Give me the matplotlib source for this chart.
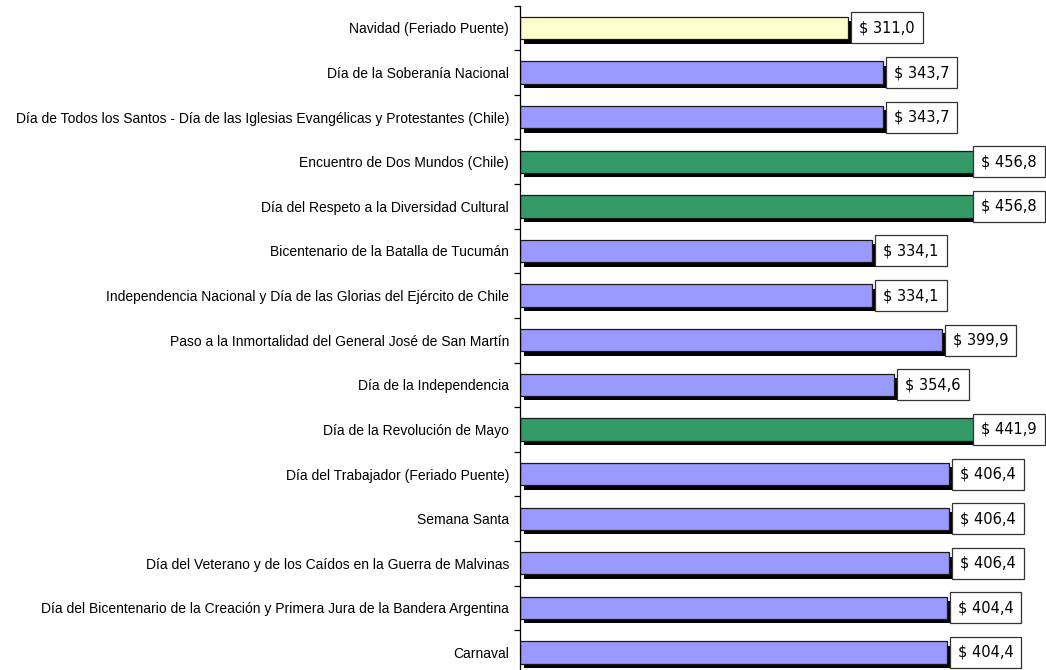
import matplotlib
matplotlib.use('Agg')
import matplotlib.pyplot as plt
import matplotlib.patheffects as pe
import numpy as np

# categories, top to bottom as in the chart
categories = [
    'Navidad (Feriado Puente)',
    'Día de la Soberanía Nacional',
    'Día de Todos los Santos - Día de las Iglesias Evangélicas y Protestantes (Chile)',
    'Encuentro de Dos Mundos (Chile)',
    'Día del Respeto a la Diversidad Cultural',
    'Bicentenario de la Batalla de Tucumán',
    'Independencia Nacional y Día de las Glorias del Ejército de Chile',
    'Paso a la Inmortalidad del General José de San Martín',
    'Día de la Independencia',
    'Día de la Revolución de Mayo',
    'Día del Trabajador (Feriado Puente)',
    'Semana Santa',
    'Día del Veterano y de los Caídos en la Guerra de Malvinas',
    'Día del Bicentenario de la Creación y Primera Jura de la Bandera Argentina',
    'Carnaval',
]
values = [311.0, 343.7, 343.7, 456.8, 456.8, 334.1, 334.1, 399.9, 354.6,
          441.9, 406.4, 406.4, 406.4, 404.4, 404.4]
kinds = ['puente', 'normal', 'normal', 'max', 'max', 'normal', 'normal', 'normal',
         'normal', 'max', 'normal', 'normal', 'normal', 'normal', 'normal']

colors = {'puente': '#FFFFCC', 'normal': '#9999FF', 'max': '#339966'}

W, H = 1046, 670
fig = plt.figure(figsize=(W / 100, H / 100), dpi=100)
# axis spans beyond the bottom edge (the original image is cropped there)
ax_left = 520 / W
ax_top = 1 - 5.6 / H
ax_bottom = 1 - 674.8 / H
ax = fig.add_axes([ax_left, ax_bottom, 1 - ax_left, ax_top - ax_bottom])

n = len(categories)
y = np.arange(n)
xmax = (W - 520) / 1.055

shadow = [pe.SimplePatchShadow(offset=(3.0, -3.2), shadow_rgbFace='black', alpha=1.0),
          pe.Normal()]
for yi, v, k in zip(y, values, kinds):
    ax.barh(yi, v, height=0.5, color=colors[k], edgecolor='#1a1a1a',
            linewidth=0.9, path_effects=shadow, zorder=2)

box = dict(boxstyle='square,pad=0.55', facecolor='white', edgecolor='#333333',
           linewidth=0.9)
for yi, v in zip(y, values):
    txt = '$ ' + ('%.1f' % v).replace('.', ',')
    if v > 426:
        ax.annotate(txt, (xmax, yi), xytext=(-9, 0), textcoords='offset pixels',
                    ha='right', va='center', fontsize=10.5, family='DejaVu Sans',
                    bbox=box, zorder=5, annotation_clip=False)
    else:
        ax.annotate(txt, (v, yi), xytext=(11, 0), textcoords='offset pixels',
                    ha='left', va='center', fontsize=10.5, family='DejaVu Sans',
                    bbox=box, zorder=5, annotation_clip=False)

ax.set_xlim(0, xmax)
ax.set_ylim(n - 0.5, -0.5)
ax.set_yticks(y)
ax.set_yticklabels(categories, family='Liberation Sans', fontsize=10)
ax.tick_params(axis='y', which='major', length=0, pad=8)
ax.set_yticks(np.arange(n + 1) - 0.5, minor=True)
ax.tick_params(axis='y', which='minor', length=4, width=0.9, direction='out')
ax.set_xticks([])
for s in ['top', 'right', 'bottom']:
    ax.spines[s].set_visible(False)
ax.spines['left'].set_linewidth(0.9)
ax.spines['left'].set_color('black')

fig.savefig('out.png', dpi=100)
